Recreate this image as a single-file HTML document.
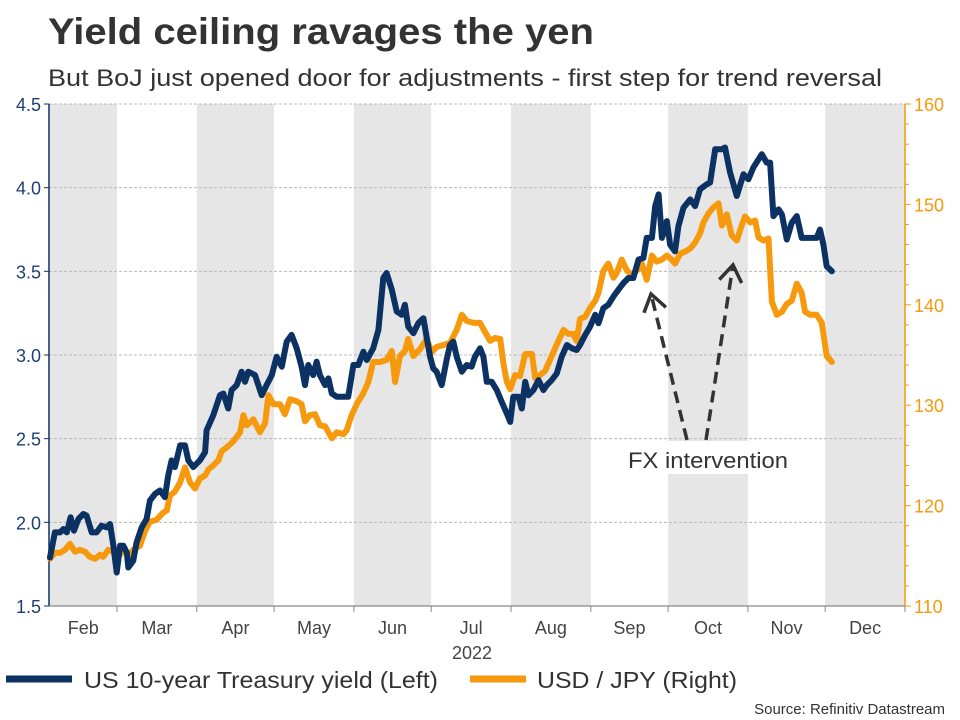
<!DOCTYPE html>
<html><head><meta charset="utf-8"><style>
html,body{margin:0;padding:0;background:#fff;}
svg{display:block;font-family:"Liberation Sans",Arial,sans-serif;}
</style></head><body>
<svg id="chart" width="960" height="720" viewBox="0 0 960 720" xmlns="http://www.w3.org/2000/svg">
<text x="48" y="44" font-size="37" font-weight="bold" fill="#333" textLength="546" lengthAdjust="spacingAndGlyphs">Yield ceiling ravages the yen</text>
<text x="48" y="86" font-size="24" fill="#333" textLength="834" lengthAdjust="spacingAndGlyphs">But BoJ just opened door for adjustments - first step for trend reversal</text>
<g id="bands"></g>
<g id="grid"></g>
<g id="axes"></g>
<g id="series"></g>
<g id="annot"></g>
<g>
 <line x1="6" y1="679" x2="72" y2="679" stroke="#0c3263" stroke-width="7"/>
 <text x="84" y="688" font-size="23" fill="#333" textLength="354" lengthAdjust="spacingAndGlyphs">US 10-year Treasury yield (Left)</text>
 <line x1="470" y1="679" x2="526" y2="679" stroke="#f7990c" stroke-width="7"/>
 <text x="537" y="688" font-size="23" fill="#333" textLength="200" lengthAdjust="spacingAndGlyphs">USD / JPY (Right)</text>
</g>
<text x="945" y="714" font-size="15" fill="#333" text-anchor="end">Source: Refinitiv Datastream</text>
</svg>
<script>
const monthStarts = [59,90,120,151,181,212,243,273,304,334,365];
const monthLabels = ["Feb","Mar","Apr","May","Jun","Jul","Aug","Sep","Oct","Nov","Dec"];
const leftTicks = [1.5,2.0,2.5,3.0,3.5,4.0,4.5];
const rightTicks = [110,120,130,140,150,160];
const yieldDays = [33.0,34.9,36.9,38.2,39.5,41.0,42.3,44.0,45.9,47.2,49.2,51.1,53.0,55.0,56.3,57.6,58.9,60.2,61.5,62.8,63.4,65.3,66.6,68.6,70.5,71.8,73.8,75.7,77.6,78.9,80.2,81.5,83.5,85.4,86.7,88.6,91.2,93.2,93.8,96.4,99.0,100.3,102.2,103.5,105.5,107.4,108.7,110.0,112.6,115.2,117.1,119.1,121.0,123.0,124.9,126.8,128.8,130.7,132.0,133.3,135.2,136.5,137.8,139.8,141.1,142.4,144.3,146.9,148.8,150.8,152.7,154.7,156.0,158.5,160.5,162.4,163.7,165.7,167.6,169.6,170.8,172.1,174.1,176.0,178.0,179.3,180.6,181.8,183.1,185.1,187.0,188.3,189.6,190.9,192.9,194.8,196.7,198.0,200.0,201.3,202.6,204.5,206.5,208.4,210.4,211.7,212.9,214.9,216.2,217.5,218.8,220.7,222.7,224.6,225.9,227.8,229.8,231.7,233.7,235.6,237.5,238.8,240.8,242.7,244.7,246.0,247.9,249.8,251.8,253.7,255.7,257.6,259.5,261.5,263.4,264.7,266.7,268.0,269.3,270.6,272.5,273.8,275.7,277.0,279.0,281.6,283.5,285.4,288.0,289.3,291.3,293.9,295.1,297.1,299.7,302.3,304.2,306.1,309.4,311.3,312.6,313.9,315.9,317.2,319.1,321.0,323.0,324.9,328.2,330.7,332.0,333.3,334.6,336.6];
const yieldValues = [1.79,1.94,1.94,1.96,1.94,2.03,1.95,2.02,2.05,2.04,1.94,1.94,1.98,1.97,1.99,1.86,1.70,1.86,1.86,1.82,1.73,1.77,1.88,1.97,2.02,2.13,2.17,2.19,2.15,2.28,2.37,2.33,2.46,2.46,2.37,2.33,2.37,2.42,2.55,2.64,2.76,2.77,2.68,2.79,2.82,2.90,2.84,2.90,2.88,2.76,2.82,2.88,2.99,2.93,3.08,3.12,3.04,2.93,2.82,2.94,2.88,2.96,2.88,2.82,2.86,2.77,2.75,2.75,2.75,2.94,2.94,3.02,2.97,3.04,3.15,3.46,3.49,3.39,3.26,3.24,3.30,3.17,3.13,3.19,3.22,3.10,2.99,2.92,2.90,2.82,2.97,3.06,3.08,2.99,2.90,2.94,2.93,2.99,3.04,2.99,2.84,2.84,2.79,2.72,2.65,2.60,2.75,2.75,2.68,2.84,2.76,2.79,2.85,2.79,2.82,2.85,2.89,2.99,3.06,3.04,3.03,3.06,3.12,3.17,3.24,3.19,3.28,3.30,3.35,3.39,3.43,3.46,3.46,3.57,3.58,3.70,3.70,3.89,3.96,3.70,3.80,3.66,3.62,3.77,3.88,3.93,3.89,3.99,4.02,4.03,4.23,4.23,4.24,4.09,3.95,4.08,4.05,4.12,4.20,4.15,4.15,3.83,3.87,3.84,3.69,3.79,3.83,3.70,3.70,3.70,3.75,3.66,3.53,3.50];
const fxDays = [33.0,34.9,36.9,38.8,40.7,42.7,44.6,46.6,48.5,50.5,52.4,53.7,55.6,57.6,59.5,61.5,63.4,65.3,67.9,69.9,71.8,74.4,77.0,78.3,79.6,81.5,83.5,85.4,87.4,89.3,91.2,93.2,94.5,96.4,98.4,99.6,101.6,104.2,106.8,108.1,109.4,111.9,114.5,116.5,117.8,119.7,122.3,124.2,126.2,128.8,130.7,132.0,133.9,135.9,137.8,139.8,142.4,144.3,146.9,148.2,150.1,152.1,154.7,156.6,158.5,161.1,163.7,165.7,167.0,168.9,170.8,172.1,174.1,176.7,179.3,181.2,183.1,185.7,188.3,190.9,192.9,194.8,197.4,200.0,201.9,203.9,205.8,207.8,209.1,210.4,211.7,213.6,215.5,217.5,220.1,221.4,223.3,225.2,227.8,230.4,232.4,234.3,236.2,237.5,238.8,240.8,242.7,244.7,246.0,247.9,249.8,251.8,253.1,255.0,257.0,258.9,260.8,262.8,264.7,266.7,268.6,270.6,272.5,274.4,275.7,277.7,279.6,281.6,283.5,285.4,286.7,288.7,290.6,292.6,293.9,295.8,297.7,299.7,301.6,302.9,304.9,306.8,308.1,310.0,312.0,313.3,315.2,317.2,319.1,321.0,323.0,324.9,326.2,328.2,330.7,332.7,334.6,336.6];
const fxValues = [114.7,115.3,115.3,115.6,116.2,115.4,115.6,115.4,114.9,114.7,115.1,114.9,115.6,115.4,114.9,115.6,114.9,115.6,116.0,117.5,118.4,118.6,119.3,119.5,121.0,121.4,122.3,123.8,122.3,121.7,122.7,123.0,123.6,124.0,124.5,125.4,125.8,126.4,127.3,129.0,128.0,128.6,127.3,128.2,131.0,130.1,130.1,129.1,130.6,130.4,130.1,128.4,129.0,129.1,128.0,127.9,126.7,127.3,127.1,127.5,129.0,130.1,131.2,132.3,134.3,134.3,134.5,135.4,132.3,134.9,135.4,136.6,134.9,135.6,136.6,135.3,135.8,136.0,136.2,137.5,139.0,138.4,138.2,138.2,137.3,136.4,136.7,136.6,134.1,132.3,131.6,133.0,132.9,135.1,135.1,132.7,133.0,133.4,134.9,136.4,137.5,137.1,137.1,136.4,138.6,138.8,139.7,140.4,141.2,143.4,144.1,142.7,143.2,144.5,143.4,143.0,143.4,144.1,142.5,144.9,144.3,144.5,144.9,144.5,144.1,145.1,145.3,145.6,146.2,147.1,148.2,149.1,149.7,150.1,147.9,149.0,146.9,146.4,147.9,148.8,148.2,148.4,146.7,146.4,146.6,140.3,139.0,139.3,140.1,140.4,142.1,141.2,139.3,139.0,139.0,138.2,134.9,134.3];

const NS = "http://www.w3.org/2000/svg";
const X0 = 49, X1 = 905, Y0 = 606, Y1 = 104;
const D0 = 32.6, D1 = 365;
function xScale(d){ return X0 + (d - D0) / (D1 - D0) * (X1 - X0); }
function yLeft(v){ return Y0 - (v - 1.5) / 3 * (Y0 - Y1); }
function yRight(v){ return Y0 - (v - 110) / 50 * (Y0 - Y1); }
function mk(tag, attrs, parent){
  const e = document.createElementNS(NS, tag);
  for (const k in attrs) e.setAttribute(k, attrs[k]);
  parent.appendChild(e);
  return e;
}
const bands = document.getElementById('bands');
const grid = document.getElementById('grid');
const axes = document.getElementById('axes');
const series = document.getElementById('series');
const annot = document.getElementById('annot');

const bandStarts = [D0].concat(monthStarts);
for (let i = 0; i < bandStarts.length - 1; i += 2) {
  const xa = xScale(bandStarts[i]), xb = xScale(bandStarts[i+1]);
  const r = mk('rect', {x: xa, y: Y1, width: xb - xa, height: Y0 - Y1, fill: '#e6e6e6'}, bands);
  
  
}
leftTicks.forEach(v => {
  const y = yLeft(v);
  if (v > 1.5) {
    const g = mk('line', {x1: X0, x2: X1, y1: y, y2: y, stroke: '#b8b8b8', 'stroke-width': 1, 'stroke-dasharray': '3,2'}, grid);
    
    
  }
  mk('line', {x1: X0 - 5, x2: X0, y1: y, y2: y, stroke: '#0c3263', 'stroke-width': 1}, axes);
  const t = mk('text', {x: 41, y: y + 7, 'font-size': 18, fill: '#1f3f73', 'text-anchor': 'end'}, axes);
  t.textContent = v.toFixed(1);
  
  
});
for (let v = 110; v <= 160; v += 2) {
  const y = yRight(v);
  mk('line', {x1: X1, x2: X1 + (v % 10 === 0 ? 6 : 4), y1: y, y2: y, stroke: '#f7990c', 'stroke-width': 1}, axes);
}
rightTicks.forEach(v => {
  const t = mk('text', {x: 914, y: yRight(v) + 7, 'font-size': 18, fill: '#f7990c'}, axes);
  t.textContent = v;
  
  
});
const la = mk('line', {x1: X0, x2: X0, y1: Y1, y2: Y0, stroke: '#0c3263', 'stroke-width': 1.5}, axes);


const ra = mk('line', {x1: X1, x2: X1, y1: Y1, y2: Y0, stroke: '#f7990c', 'stroke-width': 1.5}, axes);


const ba = mk('line', {x1: X0, x2: X1, y1: Y0, y2: Y0, stroke: '#888', 'stroke-width': 1.2}, axes);


monthStarts.forEach(d => { mk('line', {x1: xScale(d), x2: xScale(d), y1: Y0, y2: Y0 + 6, stroke: '#888', 'stroke-width': 1}, axes); });
monthLabels.forEach((m, i) => {
  const a = i === 0 ? 32 : monthStarts[i-1];
  const b = monthStarts[i];
  const t = mk('text', {x: xScale((a + b) / 2) + (i === 0 ? 1 : 0), y: 634, 'font-size': 18, fill: '#444', 'text-anchor': 'middle'}, axes);
  t.textContent = m;
  
  
});
const yr = mk('text', {x: 472, y: 659, 'font-size': 18, fill: '#444', 'text-anchor': 'middle'}, axes);
yr.textContent = '2022';



function path(days, vals, yf){
  return days.map((d, i) => (i ? 'L' : 'M') + xScale(d).toFixed(1) + ' ' + yf(vals[i]).toFixed(1)).join(' ');
}
const fxLine = mk('path', {d: path(fxDays, fxValues, yRight), fill: 'none', stroke: '#f7990c', 'stroke-width': 6, 'stroke-linejoin': 'round', 'stroke-linecap': 'round'}, series);


const yLine = mk('path', {d: path(yieldDays, yieldValues, yLeft), fill: 'none', stroke: '#0c3263', 'stroke-width': 6, 'stroke-linejoin': 'round', 'stroke-linecap': 'round'}, series);



const box = mk('rect', {x: 626, y: 441, width: 166, height: 33, fill: '#fff'}, annot);


[[687, 440, 651, 294], [706, 440, 733, 265]].forEach(a => {
  const l = mk('line', {x1: a[0], y1: a[1], x2: a[2], y2: a[3], stroke: '#333', 'stroke-width': 3.5, 'stroke-dasharray': '12,7'}, annot);
  
  
  const ang = Math.atan2(a[3] - a[1], a[2] - a[0]);
  const L = 20, sp = 0.6;
  const p1 = [a[2] - L * Math.cos(ang - sp), a[3] - L * Math.sin(ang - sp)];
  const p2 = [a[2] - L * Math.cos(ang + sp), a[3] - L * Math.sin(ang + sp)];
  const h = mk('polyline', {points: p1.join(',') + ' ' + a[2] + ',' + a[3] + ' ' + p2.join(','), fill: 'none', stroke: '#333', 'stroke-width': 3.5}, annot);
  
  
});
const at = mk('text', {x: 628, y: 468, 'font-size': 22, fill: '#333', textLength: 160, lengthAdjust: 'spacingAndGlyphs'}, annot);
at.textContent = 'FX intervention';


</script>
</body></html>
